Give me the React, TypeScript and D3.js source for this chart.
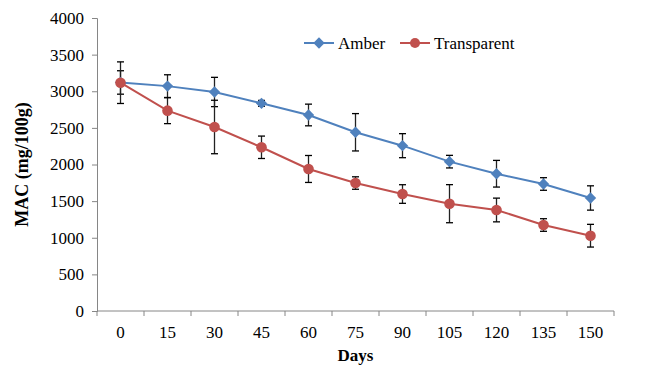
import React, { useEffect, useRef } from 'react';
import * as d3 from 'd3';

const days = ['0', '15', '30', '45', '60', '75', '90', '105', '120', '135', '150'];
const amber = [3120, 3070, 2990, 2835, 2676, 2440, 2257, 2039, 1874, 1734, 1543];
const amberErr = [160, 155, 200, 40, 148, 255, 164, 86, 182, 86, 166];
const transparent = [3117, 2735, 2512, 2235, 1939, 1747, 1597, 1465, 1379, 1174, 1028];
const transparentErr = [284, 177, 365, 153, 184, 85, 127, 260, 162, 86, 155];
const yTicks = [0, 500, 1000, 1500, 2000, 2500, 3000, 3500, 4000];

const App = () => {
  const svgRef = useRef<SVGSVGElement>(null);

  useEffect(() => {
    const svg = d3.select(svgRef.current);
    svg.selectAll('*').remove();

    const margin = { top: 18, right: 32, bottom: 55, left: 97 };
    const width = 646 - margin.left - margin.right;
    const height = 366 - margin.top - margin.bottom;
    const font = '"Liberation Serif", "Times New Roman", serif';
    const fs = '17px';

    const g = svg.append('g').attr('transform', `translate(${margin.left},${margin.top})`);

    const x = d3.scaleBand().domain(days).range([0, width]);
    const y = d3.scaleLinear().domain([0, 4000]).range([height, 0]);
    const cx = (d: string) => (x(d) as number) + x.bandwidth() / 2;

    // y axis
    const yAxis = g.append('g')
      .call(d3.axisLeft(y).tickValues(yTicks).tickSize(5).tickPadding(8).tickFormat(d3.format('d')));
    yAxis.select('.domain').attr('stroke', '#868686');
    yAxis.selectAll('.tick line').attr('stroke', '#868686');
    yAxis.selectAll('text')
      .style('font-family', font).style('font-size', fs).attr('fill', '#000');

    // x axis, ticks sit on the band edges
    const xAxis = g.append('g').attr('transform', `translate(0,${height})`);
    xAxis.append('line').attr('x1', 0).attr('x2', width).attr('stroke', '#868686');
    const bounds = days.map(d => x(d) as number).concat([width]);
    xAxis.selectAll('.xt').data(bounds).enter().append('line')
      .attr('x1', d => d).attr('x2', d => d).attr('y1', 0).attr('y2', 5)
      .attr('stroke', '#868686');
    xAxis.selectAll('.xl').data(days).enter().append('text')
      .attr('x', d => cx(d)).attr('y', 27)
      .attr('text-anchor', 'middle')
      .style('font-family', font).style('font-size', fs)
      .text(d => d);

    // axis titles
    svg.append('text')
      .attr('transform', `translate(28,${margin.top + height / 2}) rotate(-90)`)
      .attr('text-anchor', 'middle')
      .style('font-family', font).style('font-size', '18px').style('font-weight', 'bold')
      .text('MAC (mg/100g)');
    svg.append('text')
      .attr('x', margin.left + width / 2).attr('y', 361)
      .attr('text-anchor', 'middle')
      .style('font-family', font).style('font-size', fs).style('font-weight', 'bold')
      .text('Days');

    const series = [
      { name: 'Amber', values: amber, err: amberErr, color: '#4F81BD', marker: 'diamond' },
      { name: 'Transparent', values: transparent, err: transparentErr, color: '#C0504D', marker: 'circle' },
    ];

    const line = d3.line<number>()
      .x((_, i) => cx(days[i]))
      .y(v => y(v));

    const diamond = d3.symbol().type(d3.symbolSquare).size(64);

    series.forEach(s => {
      g.append('path')
        .datum(s.values)
        .attr('fill', 'none')
        .attr('stroke', s.color)
        .attr('stroke-width', 2)
        .attr('d', line);
    });

    series.forEach(s => {
      // error bars
      const eb = g.append('g');
      s.values.forEach((v, i) => {
        const px = cx(days[i]);
        const y1 = y(v + s.err[i]);
        const y2 = y(v - s.err[i]);
        eb.append('line').attr('x1', px).attr('x2', px).attr('y1', y1).attr('y2', y2)
          .attr('stroke', '#222').attr('stroke-width', 1.3);
        [y1, y2].forEach(yy => {
          eb.append('line').attr('x1', px - 3.5).attr('x2', px + 3.5).attr('y1', yy).attr('y2', yy)
            .attr('stroke', '#000').attr('stroke-width', 1.3);
        });
      });
    });

    series.forEach(s => {
      const pts = g.selectAll(null).data(s.values).enter();
      if (s.marker === 'circle') {
        pts.append('circle')
          .attr('cx', (_, i) => cx(days[i])).attr('cy', v => y(v)).attr('r', 5.3)
          .attr('fill', s.color);
      } else {
        pts.append('path')
          .attr('d', diamond as any)
          .attr('transform', (v, i) => `translate(${cx(days[i])},${y(v)}) rotate(45)`)
          .attr('fill', s.color);
      }
    });

    // legend
    const legend = svg.append('g').attr('transform', 'translate(304,43)');
    series.forEach((s, i) => {
      const lg = legend.append('g').attr('transform', `translate(${i * 96},0)`);
      lg.append('line').attr('x1', 0).attr('x2', 30).attr('stroke', s.color).attr('stroke-width', 2);
      if (s.marker === 'circle') {
        lg.append('circle').attr('cx', 15).attr('cy', 0).attr('r', 5).attr('fill', s.color);
      } else {
        lg.append('path').attr('d', diamond as any).attr('transform', 'translate(15,0) rotate(45)').attr('fill', s.color);
      }
      lg.append('text').attr('x', 34).attr('y', 5.5)
        .style('font-family', font).style('font-size', fs)
        .text(s.name);
    });
  }, []);

  return (
    <svg ref={svgRef} width={646} height={366}
      style={{ position: 'absolute', left: 0, top: 0, background: '#fff' }} />
  );
};

export default App;
